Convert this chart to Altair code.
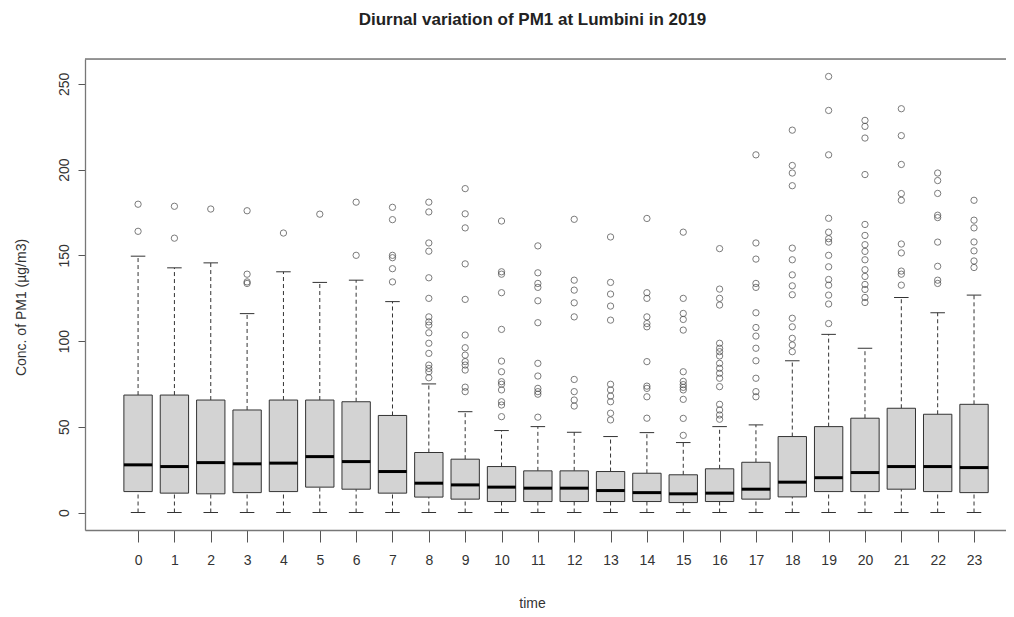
import altair as alt
import pandas as pd

hours = list(range(24))
q1 = [12.2, 11.3, 10.9, 11.6, 12.2, 14.8, 13.6, 11.3, 9.0, 7.8, 6.4, 6.4,
      6.4, 6.4, 6.4, 5.8, 6.4, 7.8, 9.1, 12.2, 12.2, 13.6, 12.2, 11.6]
med = [27.8, 26.8, 29.1, 28.4, 28.8, 32.6, 29.7, 23.9, 17.1, 16.1, 14.8, 14.2,
       14.2, 12.8, 11.6, 10.9, 11.3, 13.6, 17.7, 20.3, 23.3, 26.8, 26.8, 26.2]
q3 = [68.5, 68.5, 65.6, 59.8, 65.6, 65.6, 64.6, 56.6, 35.0, 31.1, 26.8, 24.3,
      24.3, 23.9, 22.9, 22.0, 25.5, 29.3, 44.3, 50.1, 55.0, 60.8, 57.3, 63.1]
whi = [149.5, 142.7, 145.6, 116.0, 140.4, 134.2, 135.5, 123.0, 75.0, 58.8, 47.8, 50.1,
       46.8, 44.3, 46.6, 40.8, 50.1, 51.1, 88.5, 103.9, 95.8, 125.4, 116.5, 126.8]
wlo = [0, 0, 0, 0, 0, 0, 0, 0, 0, 0, 0, 0,
       0, 0, 0, 0, 0, 0, 0, 0, 0, 0, 0, 0]
outliers = [
    [179.8, 164.0],
    [178.6, 160.0],
    [177.0],
    [176.0, 139.0, 134.5, 133.6],
    [163.0],
    [174.0],
    [181.0, 150.0],
    [178.0, 170.8, 150.0, 148.6, 142.2, 134.5],
    [181.0, 175.3, 157.2, 152.4, 136.9, 124.9, 114.1, 111.2, 109.3, 104.8, 98.7, 92.8,
     86.0, 84.0, 82.1, 78.6],
    [188.9, 174.2, 166.0, 145.0, 124.3, 103.5, 96.1, 91.8, 88.0, 86.0, 83.1, 73.1, 70.5],
    [170.0, 140.4, 139.0, 128.2, 106.8, 88.3, 82.1, 76.3, 74.8, 71.5, 64.6, 62.7, 55.9],
    [155.5, 139.8, 133.6, 131.3, 123.5, 110.7, 87.0, 79.6, 72.4, 70.5, 69.0, 55.6],
    [171.0, 135.5, 129.7, 122.3, 114.1, 77.6, 70.5, 65.6, 62.1],
    [160.7, 134.2, 127.4, 120.4, 112.2, 74.8, 71.5, 67.9, 64.6, 57.9, 54.0],
    [171.5, 128.2, 124.9, 114.1, 110.2, 108.3, 88.0, 73.7, 72.4, 67.5, 55.0],
    [163.5, 124.9, 116.1, 112.6, 106.4, 82.1, 76.5, 74.6, 73.0, 71.5, 66.0, 54.9, 45.0],
    [153.9, 130.3, 124.9, 121.0, 98.7, 95.8, 93.8, 91.3, 87.0, 84.1, 81.2, 78.3, 73.4,
     63.1, 59.8, 56.9, 54.4],
    [208.6, 157.2, 147.8, 133.6, 131.3, 116.5, 107.9, 102.9, 95.8, 88.5, 78.3, 70.5, 67.5],
    [223.0, 202.4, 198.0, 190.6, 154.2, 147.4, 138.6, 132.2, 127.0, 113.3, 108.3, 101.6,
     97.7, 93.8],
    [254.3, 234.5, 208.6, 171.6, 163.5, 159.7, 157.7, 150.0, 143.3, 135.9, 132.6, 126.8,
     121.6, 110.2],
    [228.7, 225.2, 218.4, 197.1, 168.0, 161.6, 156.2, 152.3, 147.4, 141.6, 137.7, 133.0,
     130.1, 125.4, 122.5],
    [235.5, 219.8, 203.0, 186.0, 182.1, 156.6, 151.4, 140.8, 139.0, 132.6],
    [198.0, 193.6, 186.1, 173.4, 172.0, 157.7, 143.6, 135.5, 133.6],
    [182.1, 170.5, 166.0, 157.8, 152.6, 146.7, 142.9],
]
y_ticks = [0, 50, 100, 150, 200, 250]

box_df = pd.DataFrame({"hour": hours, "q1": q1, "med": med, "q3": q3,
                       "whi": whi, "wlo": wlo})
out_df = pd.DataFrame([{"hour": h, "val": v}
                       for h, vals in zip(hours, outliers) for v in vals])

FONT = "Liberation Sans"
W, H = 921, 471
xscale = alt.Scale(domain=[-1.46, 23.88], nice=False, zero=False)
yscale = alt.Scale(domain=[-10.2, 264.5], nice=False, zero=False)

base = alt.Chart(box_df).transform_calculate(
    left="datum.hour - 0.39", right="datum.hour + 0.39",
    cl="datum.hour - 0.2", cr="datum.hour + 0.2")

x_axis = alt.Axis(values=hours, format="d", title="time", grid=False,
                  labelFont=FONT, labelFontSize=14, labelColor="#333",
                  labelPadding=11, tickSize=12, tickColor="#555",
                  domainColor="#777", domainWidth=1.3,
                  titleFont=FONT, titleFontSize=14, titleFontWeight="normal",
                  titleColor="#333", titleX=447, titleY=73,
                  titleAlign="center", titleBaseline="middle")
y_axis = alt.Axis(values=y_ticks, title="Conc. of PM1 (µg/m3)", grid=False,
                  labelFont=FONT, labelFontSize=14, labelColor="#333",
                  labelAngle=-90, labelAlign="center", labelBaseline="bottom",
                  labelPadding=7, tickSize=7, tickColor="#555",
                  domainColor="#777", domainWidth=1.3,
                  titleFont=FONT, titleFontSize=14, titleFontWeight="normal",
                  titleColor="#333", titleX=-64, titleY=248,
                  titleAlign="center", titleBaseline="middle")


def X(field):
    return alt.X(field, scale=xscale, axis=x_axis)


def Y(field):
    return alt.Y(field, scale=yscale, axis=y_axis)


dash = [4, 3]
upper = base.mark_rule(color="#333", strokeDash=dash, strokeWidth=1).encode(
    x=X("hour:Q"), y=Y("q3:Q"), y2="whi:Q")
lower = base.mark_rule(color="#333", strokeDash=dash, strokeWidth=1).encode(
    x=X("hour:Q"), y=Y("wlo:Q"), y2="q1:Q")
boxes = base.mark_rect(fill="#d3d3d3", stroke="#333", strokeWidth=1).encode(
    x=X("left:Q"), x2="right:Q", y=Y("q1:Q"), y2="q3:Q")
medians = base.mark_rule(color="#000", strokeWidth=3).encode(
    x=X("left:Q"), x2="right:Q", y=Y("med:Q"))
cap_hi = base.mark_rule(color="#333", strokeWidth=1).encode(
    x=X("cl:Q"), x2="cr:Q", y=Y("whi:Q"))
cap_lo = base.mark_rule(color="#333", strokeWidth=1).encode(
    x=X("cl:Q"), x2="cr:Q", y=Y("wlo:Q"))
points = alt.Chart(out_df).mark_point(shape="circle", filled=False, size=40,
                                      stroke="#444", strokeWidth=1).encode(
    x=X("hour:Q"), y=Y("val:Q"))
top_line = alt.Chart(pd.DataFrame({"k": [0]})).mark_rule(
    color="#777", strokeWidth=1.3).encode(
    x=alt.value(0), x2=alt.value(W), y=alt.value(0))

chart = alt.layer(upper, lower, boxes, medians, cap_hi, cap_lo, points, top_line).properties(
    width=W, height=H,
    title=alt.TitleParams("Diurnal variation of PM1 at Lumbini in 2019",
                          font=FONT, fontSize=17, fontWeight="bold",
                          color="#222", anchor="middle", dx=-13, offset=29),
    autosize=alt.AutoSizeParams(type="none"),
    padding={"left": 77, "top": 51, "right": 0, "bottom": 79},
).configure_view(stroke=None).configure(background="white")

chart.save("out.html", embed_options={"renderer": "svg", "actions": False})
